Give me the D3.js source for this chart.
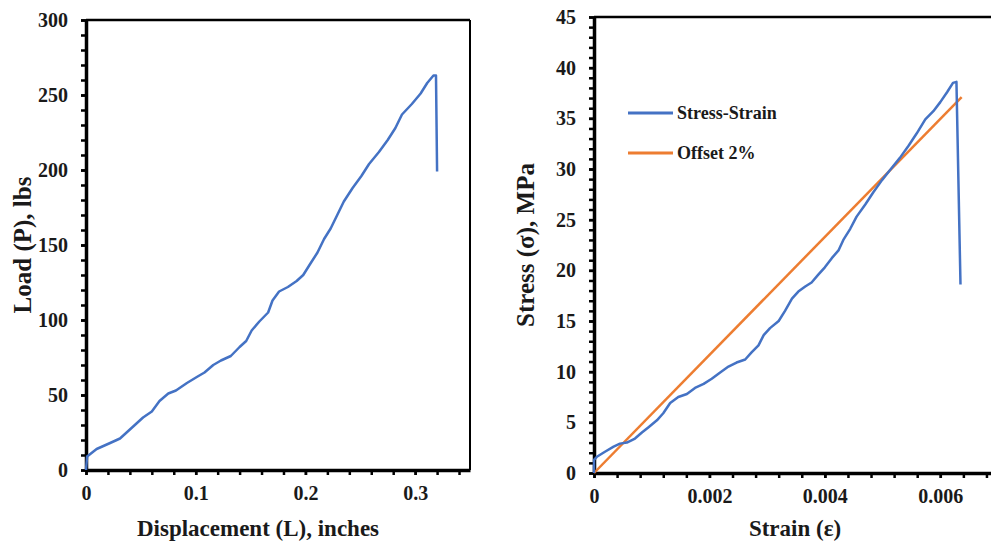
<!DOCTYPE html>
<html>
<head>
<meta charset="utf-8">
<script src="https://cdn.jsdelivr.net/npm/d3@7"></script>
<style>
  body { margin: 0; background: #fff; }
  text { font-family: "Liberation Serif", "Times New Roman", serif; font-weight: bold; fill: #1a1a1a; }
</style>
</head>
<body>
<div id="chart"></div>
<script>
// left panel: load vs displacement
var displacement = [0, 0.001, 0.0097, 0.022, 0.031, 0.037, 0.046, 0.052, 0.06, 0.067, 0.075, 0.082, 0.092, 0.101, 0.108, 0.116, 0.123, 0.132, 0.14, 0.146, 0.151, 0.158, 0.166, 0.17, 0.176, 0.184, 0.192, 0.198, 0.204, 0.211, 0.217, 0.223, 0.229, 0.235, 0.243, 0.251, 0.258, 0.267, 0.275, 0.282, 0.288, 0.297, 0.305, 0.311, 0.3167, 0.319, 0.32];
var load = [0, 9, 14, 18, 21, 25, 31, 35, 39, 46, 51, 53, 58, 62, 65, 70, 73, 76, 82, 86, 93, 99, 105, 113, 119, 122, 126, 130, 137, 145, 154, 161, 170, 179, 188, 196, 204, 212, 220, 228, 237, 244, 251, 258, 263, 263, 199];

// right panel: stress vs strain
var strain = [0, 0, 0.00005, 0.00019, 0.00034, 0.00045, 0.00057, 0.00071, 0.00083, 0.00094, 0.00109, 0.0012, 0.00132, 0.00146, 0.00161, 0.00175, 0.0019, 0.00204, 0.00218, 0.00233, 0.00247, 0.00262, 0.00273, 0.00285, 0.00294, 0.00305, 0.0032, 0.00331, 0.00343, 0.00354, 0.00366, 0.00377, 0.00389, 0.004, 0.00412, 0.00424, 0.00432, 0.00444, 0.00455, 0.0047, 0.00484, 0.00499, 0.00513, 0.0053, 0.00545, 0.00559, 0.00574, 0.00588, 0.006, 0.00612, 0.00622, 0.00628, 0.00635];
var stress = [0, 1.3, 1.6, 2.1, 2.6, 2.9, 3.0, 3.4, 4.0, 4.5, 5.2, 5.9, 6.9, 7.5, 7.8, 8.4, 8.8, 9.3, 9.9, 10.5, 10.9, 11.2, 11.9, 12.6, 13.6, 14.3, 15.0, 16.0, 17.2, 17.9, 18.4, 18.8, 19.6, 20.3, 21.2, 22.0, 23.0, 24.1, 25.3, 26.5, 27.7, 28.9, 29.9, 31.1, 32.3, 33.5, 34.9, 35.7, 36.6, 37.6, 38.5, 38.6, 18.6];
var offsetStrain = [0, 0.00637];
var offsetStress = [0, 37.1];

var leftXTicks = [0, 0.1, 0.2, 0.3];
var leftYTicks = [0, 50, 100, 150, 200, 250, 300];
var rightXTicks = [0, 0.002, 0.004, 0.006];
var rightYTicks = [0, 5, 10, 15, 20, 25, 30, 35, 40, 45];
var seriesNames = ["Stress-Strain", "Offset 2%"];

var blue = "#4472c4", orange = "#ed7d31";

var svg = d3.select("#chart").append("svg")
    .attr("width", 991)
    .attr("height", 542);

function drawAxes(x, y, xTicks, yTicks, xMinor, yMinor, xLabel, xLabelX, yLabel, yLabelX) {
    var g = svg.append("g");
    var x0 = x.range()[0], x1 = x.range()[1];
    var y0 = y.range()[0], y1 = y.range()[1];

    // frame top and right
    g.append("line").attr("x1", x0).attr("x2", x1).attr("y1", y1).attr("y2", y1)
        .attr("stroke", "#000").attr("stroke-width", 2.5);
    g.append("line").attr("x1", x1).attr("x2", x1).attr("y1", y1).attr("y2", y0)
        .attr("stroke", "#000").attr("stroke-width", 2);

    // minor ticks
    g.append("g").attr("transform", "translate(0," + y0 + ")")
        .call(d3.axisBottom(x).tickValues(xMinor).tickFormat("").tickSize(5).tickSizeOuter(0))
        .call(s => s.select(".domain").remove())
        .selectAll("line").attr("stroke-width", 2.5);
    g.append("g").attr("transform", "translate(" + x0 + ",0)")
        .call(d3.axisLeft(y).tickValues(yMinor).tickFormat("").tickSize(5).tickSizeOuter(0))
        .call(s => s.select(".domain").remove())
        .selectAll("line").attr("stroke-width", 2.5);

    var xa = g.append("g").attr("transform", "translate(0," + y0 + ")")
        .call(d3.axisBottom(x).tickValues(xTicks).tickFormat(d => d === 0 ? "0" : String(d))
            .tickSize(5).tickSizeOuter(0).tickPadding(11));
    xa.select(".domain").attr("stroke-width", 3.5);
    xa.selectAll("line").attr("stroke-width", 2.5);
    xa.selectAll("text").style("font-size", "20px");

    var ya = g.append("g").attr("transform", "translate(" + x0 + ",0)")
        .call(d3.axisLeft(y).tickValues(yTicks).tickSize(5).tickSizeOuter(0).tickPadding(13));
    ya.select(".domain").attr("stroke-width", 3.5);
    ya.selectAll("line").attr("stroke-width", 2.5);
    ya.selectAll("text").style("font-size", "20px");

    g.append("text")
        .attr("x", xLabelX)
        .attr("y", 536)
        .attr("text-anchor", "middle")
        .style("font-size", "23px")
        .text(xLabel);

    g.append("text")
        .attr("transform", "translate(" + yLabelX + "," + ((y0 + y1) / 2) + ") rotate(-90)")
        .attr("text-anchor", "middle")
        .style("font-size", "25px")
        .text(yLabel);
}

// ---- left chart
var xL = d3.scaleLinear().domain([0, 0.35]).range([86, 470]);
var yL = d3.scaleLinear().domain([0, 300]).range([470, 20]);
drawAxes(xL, yL, leftXTicks, leftYTicks, d3.range(0, 0.3501, 0.02), d3.range(0, 300.1, 10),
    "Displacement (L), inches", 258, "Load (P), lbs", 31);

svg.append("path")
    .datum(displacement.map((d, i) => [d, load[i]]))
    .attr("fill", "none")
    .attr("stroke", blue)
    .attr("stroke-width", 2.5)
    .attr("stroke-linejoin", "round")
    .attr("d", d3.line().x(d => xL(d[0])).y(d => yL(d[1])));

// ---- right chart
var xR = d3.scaleLinear().domain([0, 0.007]).range([594, 998]);
var yR = d3.scaleLinear().domain([0, 45]).range([473, 17]);
drawAxes(xR, yR, rightXTicks, rightYTicks, d3.range(0, 0.00701, 0.0004), d3.range(0, 45.1, 1),
    "Strain (ε)", 795, "Stress (σ), MPa", 534);

svg.append("path")
    .datum(offsetStrain.map((d, i) => [d, offsetStress[i]]))
    .attr("fill", "none")
    .attr("stroke", orange)
    .attr("stroke-width", 2.5)
    .attr("d", d3.line().x(d => xR(d[0])).y(d => yR(d[1])));

svg.append("path")
    .datum(strain.map((d, i) => [d, stress[i]]))
    .attr("fill", "none")
    .attr("stroke", blue)
    .attr("stroke-width", 2.5)
    .attr("stroke-linejoin", "round")
    .attr("d", d3.line().x(d => xR(d[0])).y(d => yR(d[1])));

// legend
var legend = svg.append("g").attr("transform", "translate(628,113)");
[blue, orange].forEach(function(c, i) {
    legend.append("line").attr("x1", 0).attr("x2", 45).attr("y1", i * 40).attr("y2", i * 40)
        .attr("stroke", c).attr("stroke-width", 3);
    legend.append("text").attr("x", 49).attr("y", i * 40 + 6)
        .style("font-size", "18px").text(seriesNames[i]);
});
</script>
</body>
</html>
